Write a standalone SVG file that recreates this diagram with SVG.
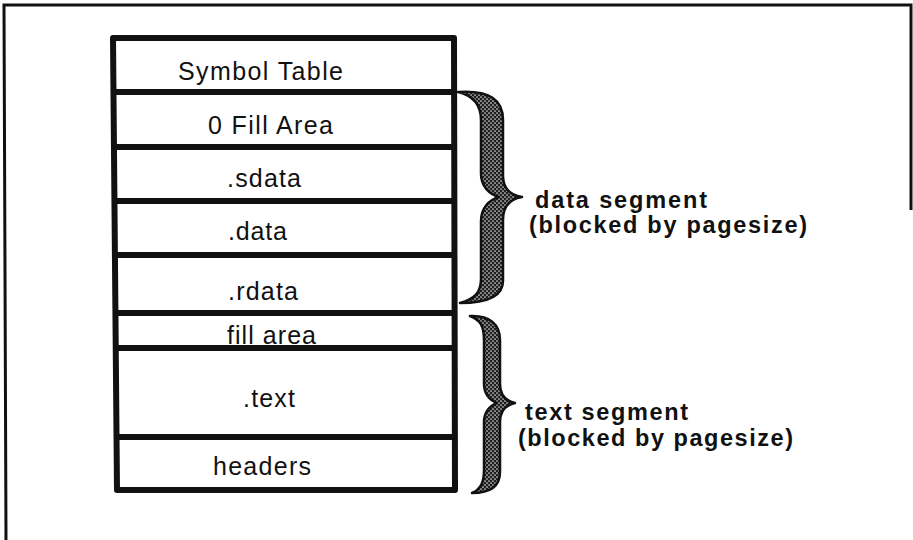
<svg xmlns="http://www.w3.org/2000/svg" width="913" height="540" viewBox="0 0 913 540">
  <style>
    .frame { fill: none; stroke: #111; stroke-width: 3; }
    .box { fill: none; stroke: #111; stroke-width: 6; stroke-linejoin: round; }
    .div { stroke: #111; stroke-width: 6; }
    .cell { font-family: "Liberation Sans", Arial, sans-serif; font-size: 25px; fill: #111; }
    .lbl { font-family: "Liberation Sans", Arial, sans-serif; font-size: 23.5px; font-weight: bold; fill: #111; }
    .brace { fill: url(#stipple); stroke: #111; stroke-width: 2.5; stroke-linejoin: round; }
  </style>
  <defs>
    <!-- dotted screen used inside the braces -->
    <pattern id="stipple" width="4" height="4" patternUnits="userSpaceOnUse">
      <rect width="4" height="4" fill="#1e1e1e"/>
      <circle cx="1" cy="1" r="0.85" fill="#ddd"/>
      <circle cx="3" cy="3" r="0.85" fill="#ddd"/>
    </pattern>
  </defs>

  <!-- page border -->
  <g id="border">
    <path class="frame" d="M6,540 L4,5 L911,5 L911,210"/>
  </g>

  <!-- memory layout column -->
  <g id="layout">
    <path class="box" d="M113,38 L454,38 L455,490 L117,490 Z"/>
    <g id="symbol-table">
      <text class="cell" x="178" y="80" textLength="165" lengthAdjust="spacing">Symbol Table</text>
    </g>
    <g id="zero-fill">
      <line class="div" x1="113" y1="92" x2="454" y2="92"/>
      <text class="cell" x="208" y="134" textLength="125" lengthAdjust="spacing">0 Fill Area</text>
    </g>
    <g id="sdata">
      <line class="div" x1="113" y1="147" x2="454" y2="147"/>
      <text class="cell" x="227" y="187" textLength="74" lengthAdjust="spacing">.sdata</text>
    </g>
    <g id="data">
      <line class="div" x1="114" y1="201" x2="454" y2="201"/>
      <text class="cell" x="228" y="240" textLength="59" lengthAdjust="spacing">.data</text>
    </g>
    <g id="rdata">
      <line class="div" x1="114" y1="255" x2="454" y2="255"/>
      <text class="cell" x="228" y="300" textLength="70" lengthAdjust="spacing">.rdata</text>
    </g>
    <g id="fill-area">
      <line class="div" x1="115" y1="313" x2="455" y2="313"/>
      <text class="cell" x="227" y="344" textLength="89" lengthAdjust="spacing">fill area</text>
    </g>
    <g id="text">
      <line class="div" x1="115" y1="348" x2="455" y2="348"/>
      <text class="cell" x="243" y="407" textLength="52" lengthAdjust="spacing">.text</text>
    </g>
    <g id="headers">
      <line class="div" x1="116" y1="437" x2="455" y2="437"/>
      <text class="cell" x="213" y="475" textLength="98" lengthAdjust="spacing">headers</text>
    </g>
  </g>

  <!-- segment braces -->
  <g id="connectors">
    <path class="brace" d="M458,92 C490,90 503,100 503,120 L503,176 C503,189 510,195 522,197 C510,199 503,206 503,220 L503,281 C503,295 490,303 460,303 C475,299 481,292 481,279 L481,221 C481,208 489,200 499,197 C489,194 481,186 481,174 L481,120 C481,106 475,96 458,92 Z"/>
    <path class="brace" d="M470,316 C490,315 500,325 500,340 L500,384 C500,395 506,401 515,403 C506,405 500,411 500,422 L500,472 C500,486 490,493 472,493 C481,489 484,482 484,470 L484,422 C484,413 489,406 497,403 C489,400 484,393 484,384 L484,340 C484,327 481,320 470,316 Z"/>
  </g>

  <g id="data-segment">
    <text class="lbl" x="535" y="208" textLength="172" lengthAdjust="spacing">data segment</text>
    <text class="lbl" x="529" y="233" textLength="278" lengthAdjust="spacing">(blocked by pagesize)</text>
  </g>
  <g id="text-segment">
    <text class="lbl" x="525" y="420" textLength="163" lengthAdjust="spacing">text segment</text>
    <text class="lbl" x="518" y="446" textLength="275" lengthAdjust="spacing">(blocked by pagesize)</text>
  </g>
</svg>
